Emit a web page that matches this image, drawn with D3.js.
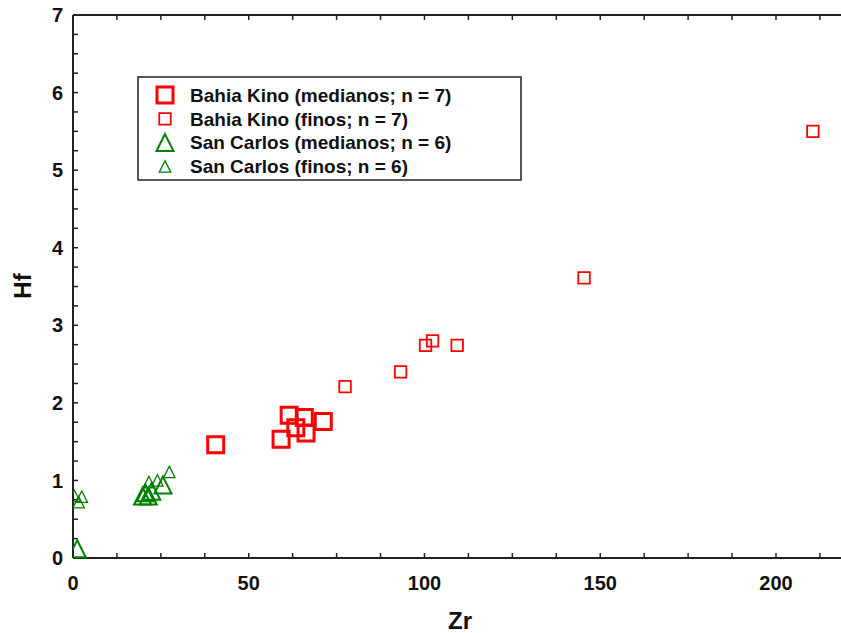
<!DOCTYPE html>
<html>
<head>
<meta charset="utf-8">
<script src="https://cdn.jsdelivr.net/npm/d3@7"></script>
<style>
  body { margin: 0; background: #fff; }
  text { font-family: "Liberation Sans", Arial, sans-serif; font-weight: bold; fill: #111; }
</style>
</head>
<body>
<div id="chart"></div>
<script>
// Hf vs Zr scatter, Bahia Kino and San Carlos sediments

var width = 841, height = 633,
    margin = {top: 15, right: 0, bottom: 75, left: 73};

// series data: [Zr, Hf]
var bkMedianos = [[40.6, 1.46], [59.2, 1.53], [61.5, 1.84], [65.8, 1.81],
                  [63.4, 1.68], [66.3, 1.61], [71.2, 1.76]];
var bkFinos = [[210.5, 5.50], [145.4, 3.61], [109.3, 2.74], [102.3, 2.80],
               [100.3, 2.74], [93.2, 2.40], [77.4, 2.21]];
var scMedianos = [[1.2, 0.12], [19.8, 0.80], [20.6, 0.84], [21.4, 0.80],
                  [22.4, 0.86], [25.6, 0.94]];
var scFinos = [[0.4, 0.80], [1.6, 0.72], [2.5, 0.79], [21.6, 0.98],
               [24.0, 1.00], [27.4, 1.11]];

var legendLabels = ["Bahia Kino (medianos; n = 7)", "Bahia Kino (finos; n = 7)",
                    "San Carlos (medianos; n = 6)", "San Carlos (finos; n = 6)"];
var xTicks = [0, 50, 100, 150, 200],
    yTicks = [0, 1, 2, 3, 4, 5, 6, 7];

var red = "#ff0000", green = "#008000";

var x = d3.scaleLinear().domain([0, 218.5]).range([margin.left, width - margin.right]);
var y = d3.scaleLinear().domain([0, 7]).range([height - margin.bottom, margin.top]);

var svg = d3.select("#chart").append("svg")
    .attr("width", width).attr("height", height);

svg.append("defs").append("clipPath").attr("id", "plotclip")
  .append("rect")
    .attr("x", margin.left).attr("y", 0)
    .attr("width", width - margin.left).attr("height", height);

// minor tick values
var xMinor = d3.range(0, 218.5, 12.5),
    yMinor = d3.range(0, 7.001, 0.25);

var axisColor = "#222";

// bottom axis
var xAxis = svg.append("g")
    .attr("transform", "translate(0," + y(0) + ")");
xAxis.append("line")
    .attr("x1", x(0)).attr("x2", width).attr("y1", 0).attr("y2", 0)
    .attr("stroke", axisColor).attr("stroke-width", 2);
xAxis.selectAll(".tk").data(xMinor).join("line")
    .attr("x1", d => x(d)).attr("x2", d => x(d))
    .attr("y1", 0).attr("y2", -5)
    .attr("stroke", axisColor).attr("stroke-width", 1.5);
xAxis.selectAll("text").data(xTicks).join("text")
    .attr("x", d => x(d)).attr("y", 32)
    .attr("text-anchor", "middle")
    .style("font-size", "20px")
    .text(d => d);

// top frame line
var topAxis = svg.append("g")
    .attr("transform", "translate(0," + y(7) + ")");
topAxis.append("line")
    .attr("x1", x(0)).attr("x2", width).attr("y1", 0).attr("y2", 0)
    .attr("stroke", axisColor).attr("stroke-width", 2);
topAxis.selectAll(".tk").data(xMinor).join("line")
    .attr("x1", d => x(d)).attr("x2", d => x(d))
    .attr("y1", 0).attr("y2", 5)
    .attr("stroke", axisColor).attr("stroke-width", 1.5);

// left axis
var yAxis = svg.append("g")
    .attr("transform", "translate(" + x(0) + ",0)");
yAxis.append("line")
    .attr("x1", 0).attr("x2", 0).attr("y1", y(0)).attr("y2", y(7))
    .attr("stroke", axisColor).attr("stroke-width", 2);
yAxis.selectAll(".tk").data(yMinor).join("line")
    .attr("x1", 0).attr("x2", 5)
    .attr("y1", d => y(d)).attr("y2", d => y(d))
    .attr("stroke", axisColor).attr("stroke-width", 1.5);
yAxis.selectAll("text").data(yTicks).join("text")
    .attr("x", -10).attr("y", d => y(d))
    .attr("dy", "0.36em")
    .attr("text-anchor", "end")
    .style("font-size", "20px")
    .text(d => d);

// axis titles
svg.append("text")
    .attr("x", 460).attr("y", 629)
    .attr("text-anchor", "middle")
    .style("font-size", "24px")
    .text("Zr");
svg.append("text")
    .attr("transform", "translate(31,286) rotate(-90)")
    .attr("text-anchor", "middle")
    .style("font-size", "24px")
    .text("Hf");

// marker paths
function squarePath(s) {
  var h = s / 2;
  return "M" + (-h) + "," + (-h) + "H" + h + "V" + h + "H" + (-h) + "Z";
}
function trianglePath(s) {
  var h = s / 2;
  return "M0," + (-h) + "L" + h + "," + h + "L" + (-h) + "," + h + "Z";
}

var styles = [
  {data: bkMedianos, path: squarePath(16), color: red, sw: 3},
  {data: bkFinos, path: squarePath(11.5), color: red, sw: 1.8},
  {data: scMedianos, path: trianglePath(17), color: green, sw: 2},
  {data: scFinos, path: trianglePath(11.5), color: green, sw: 1.3}
];

var plot = svg.append("g").attr("clip-path", "url(#plotclip)");
styles.forEach(function(st) {
  plot.append("g").selectAll("path").data(st.data).join("path")
      .attr("transform", d => "translate(" + x(d[0]) + "," + y(d[1]) + ")")
      .attr("d", st.path)
      .attr("fill", "none")
      .attr("stroke", st.color)
      .attr("stroke-width", st.sw)
      .attr("stroke-linejoin", "miter");
});

// legend
var legend = svg.append("g").attr("transform", "translate(138,77)");
legend.append("rect")
    .attr("x", 0).attr("y", 0).attr("width", 383).attr("height", 103)
    .attr("fill", "#fff").attr("stroke", axisColor).attr("stroke-width", 1.5);
var rows = legend.selectAll(".row").data(styles).join("g")
    .attr("transform", (d, i) => "translate(0," + (18 + i * 23.8) + ")");
rows.append("path")
    .attr("transform", "translate(27,0)")
    .attr("d", d => d.path)
    .attr("fill", "none")
    .attr("stroke", d => d.color)
    .attr("stroke-width", d => d.sw);
rows.append("text")
    .attr("x", 52).attr("dy", "0.36em")
    .style("font-size", "19px")
    .text((d, i) => legendLabels[i]);
</script>
</body>
</html>
